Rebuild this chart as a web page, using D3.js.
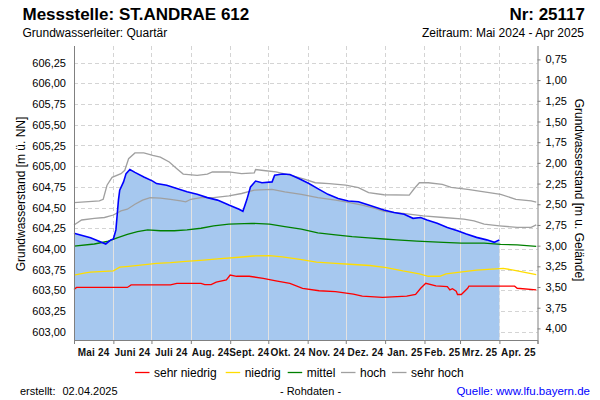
<!DOCTYPE html>
<html><head><meta charset="utf-8">
<script src="https://cdn.jsdelivr.net/npm/d3@7"></script>
<style>
body{margin:0;background:#fff}
svg{display:block;font-family:"Liberation Sans",Arial,sans-serif}
</style>
</head><body><svg id="c" width="600" height="400"></svg>
<script>
// ---------- data ----------
const monthLabels = ["Mai 24","Juni 24","Juli 24","Aug. 24","Sept. 24","Okt. 24","Nov. 24","Dez. 24","Jan. 25","Feb. 25","Mrz. 25","Apr. 25"];
const monthStarts = ["2024-05-01","2024-06-01","2024-07-01","2024-08-01","2024-09-01","2024-10-01","2024-11-01","2024-12-01","2025-01-01","2025-02-01","2025-03-01","2025-04-01","2025-05-01"];
const leftTicks = [603.00,603.25,603.50,603.75,604.00,604.25,604.50,604.75,605.00,605.25,605.50,605.75,606.00,606.25];
const rightTicks = [0.75,1.00,1.25,1.50,1.75,2.00,2.25,2.50,2.75,3.00,3.25,3.50,3.75,4.00];
const groundLevel = 607.04;

const measured = [["2024-05-01",604.19],["2024-05-14",604.135],["2024-05-26",604.06],["2024-05-30",604.11],["2024-06-01",604.12],["2024-06-03",604.23],["2024-06-04",604.41],["2024-06-05",604.59],["2024-06-06",604.71],["2024-06-09",604.81],["2024-06-11",604.91],["2024-06-14",604.96],["2024-06-18",604.925],["2024-06-25",604.87],["2024-07-02",604.82],["2024-07-05",604.79],["2024-07-13",604.77],["2024-07-21",604.73],["2024-07-29",604.69],["2024-08-06",604.66],["2024-08-14",604.62],["2024-08-22",604.59],["2024-08-31",604.53],["2024-09-08",604.48],["2024-09-11",604.455],["2024-09-14",604.59],["2024-09-17",604.75],["2024-09-21",604.82],["2024-09-26",604.80],["2024-10-04",604.81],["2024-10-06",604.89],["2024-10-12",604.905],["2024-10-18",604.90],["2024-10-25",604.85],["2024-11-02",604.79],["2024-11-10",604.72],["2024-11-17",604.66],["2024-11-25",604.61],["2024-12-03",604.58],["2024-12-11",604.57],["2024-12-19",604.53],["2024-12-31",604.47],["2025-01-08",604.44],["2025-01-16",604.42],["2025-01-23",604.37],["2025-01-29",604.38],["2025-02-03",604.35],["2025-02-11",604.31],["2025-02-19",604.26],["2025-02-27",604.22],["2025-03-06",604.18],["2025-03-14",604.14],["2025-03-22",604.11],["2025-03-28",604.08],["2025-04-01",604.11]];

const sehrHoch = [["2024-05-01",604.56],["2024-05-21",604.58],["2024-05-24",604.60],["2024-05-27",604.77],["2024-05-31",604.865],["2024-06-07",604.91],["2024-06-10",604.95],["2024-06-13",605.09],["2024-06-18",605.16],["2024-06-25",605.16],["2024-07-02",605.13],["2024-07-08",605.11],["2024-07-15",605.05],["2024-07-21",604.97],["2024-07-26",604.905],["2024-08-06",604.89],["2024-08-14",604.905],["2024-08-18",604.93],["2024-08-31",604.93],["2024-09-10",604.91],["2024-09-20",604.92],["2024-09-21",604.96],["2024-09-29",604.945],["2024-10-07",604.93],["2024-10-19",604.89],["2024-10-30",604.84],["2024-11-07",604.80],["2024-11-18",604.79],["2024-12-01",604.77],["2024-12-11",604.74],["2024-12-19",604.68],["2024-12-31",604.655],["2025-01-20",604.65],["2025-01-24",604.73],["2025-01-28",604.80],["2025-02-04",604.80],["2025-02-15",604.78],["2025-02-22",604.745],["2025-03-07",604.72],["2025-03-20",604.69],["2025-04-02",604.66],["2025-04-14",604.60],["2025-04-26",604.58],["2025-04-30",604.565]];

const hoch = [["2024-05-01",604.29],["2024-05-07",604.35],["2024-05-17",604.37],["2024-05-25",604.38],["2024-06-01",604.41],["2024-06-07",604.46],["2024-06-12",604.48],["2024-06-18",604.54],["2024-06-24",604.59],["2024-06-30",604.62],["2024-07-08",604.615],["2024-07-16",604.60],["2024-07-24",604.58],["2024-07-28",604.57],["2024-08-01",604.60],["2024-08-09",604.62],["2024-08-19",604.62],["2024-08-31",604.64],["2024-09-10",604.67],["2024-09-20",604.71],["2024-10-04",604.72],["2024-10-14",604.69],["2024-10-27",604.66],["2024-11-09",604.62],["2024-11-23",604.59],["2024-12-01",604.57],["2024-12-14",604.53],["2024-12-24",604.49],["2024-12-31",604.455],["2025-01-15",604.43],["2025-01-31",604.40],["2025-02-16",604.38],["2025-03-04",604.36],["2025-03-12",604.34],["2025-03-20",604.30],["2025-04-01",604.28],["2025-04-15",604.26],["2025-04-26",604.26],["2025-04-30",604.29]];

const mittel = [["2024-05-01",604.035],["2024-05-17",604.06],["2024-05-27",604.09],["2024-06-04",604.135],["2024-06-12",604.175],["2024-06-20",604.21],["2024-06-28",604.23],["2024-07-08",604.22],["2024-07-19",604.22],["2024-07-29",604.23],["2024-08-09",604.25],["2024-08-19",604.28],["2024-08-31",604.30],["2024-09-18",604.31],["2024-10-02",604.30],["2024-10-14",604.27],["2024-10-27",604.24],["2024-11-09",604.195],["2024-11-23",604.17],["2024-12-06",604.15],["2024-12-19",604.135],["2024-12-31",604.12],["2025-01-10",604.11],["2025-01-26",604.095],["2025-02-16",604.08],["2025-03-02",604.07],["2025-03-20",604.07],["2025-04-02",604.055],["2025-04-15",604.05],["2025-04-30",604.03]];

const niedrig = [["2024-05-01",603.685],["2024-05-10",603.71],["2024-05-14",603.72],["2024-06-01",603.735],["2024-06-06",603.78],["2024-06-13",603.79],["2024-06-26",603.81],["2024-07-05",603.825],["2024-07-16",603.835],["2024-07-28",603.85],["2024-08-11",603.865],["2024-08-22",603.88],["2024-09-08",603.90],["2024-09-19",603.915],["2024-10-02",603.92],["2024-10-12",603.905],["2024-10-26",603.875],["2024-11-08",603.84],["2024-11-23",603.825],["2024-12-04",603.815],["2024-12-20",603.80],["2025-01-02",603.775],["2025-01-15",603.735],["2025-01-28",603.70],["2025-02-04",603.67],["2025-02-13",603.67],["2025-02-18",603.70],["2025-03-01",603.72],["2025-03-14",603.745],["2025-04-04",603.765],["2025-04-12",603.745],["2025-04-30",603.69]];

const sehrNiedrig = [["2024-05-01",603.51],["2024-05-03",603.535],["2024-06-12",603.535],["2024-06-15",603.565],["2024-07-16",603.565],["2024-07-21",603.585],["2024-08-09",603.585],["2024-08-12",603.57],["2024-08-17",603.57],["2024-08-21",603.60],["2024-08-29",603.625],["2024-09-01",603.685],["2024-09-06",603.67],["2024-09-16",603.67],["2024-09-27",603.645],["2024-10-07",603.615],["2024-10-18",603.585],["2024-10-28",603.525],["2024-11-10",603.495],["2024-11-23",603.485],["2024-12-07",603.455],["2024-12-14",603.43],["2024-12-30",603.415],["2025-01-18",603.43],["2025-01-25",603.45],["2025-01-29",603.525],["2025-02-02",603.585],["2025-02-10",603.555],["2025-02-19",603.545],["2025-02-21",603.505],["2025-02-23",603.52],["2025-02-26",603.49],["2025-02-27",603.45],["2025-03-02",603.45],["2025-03-07",603.525],["2025-03-08",603.55],["2025-04-13",603.55],["2025-04-15",603.525],["2025-04-30",603.505]];

const legendItems = [["sehr niedrig","#ff0000"],["niedrig","#ffdd00"],["mittel","#008000"],["hoch","#a0a0a0"],["sehr hoch","#a0a0a0"]];

// ---------- layout ----------
const L = 74, R = 537.5, T = 46, B = 340;
const parse = d3.utcParse("%Y-%m-%d");
const svg = d3.select("#c");
const x = d3.scaleUtc().domain([parse("2024-05-01"), parse("2025-05-01")]).range([L, R]);
const y = d3.scaleLinear().domain([602.9, 606.452]).range([B, T]);
const yR = d3.scaleLinear().domain([groundLevel - 602.9, groundLevel - 606.452]).range([B, T]);
const fmt = d => d3.format(".2f")(d).replace(".", ",");
const pts = arr => arr.map(([d, v]) => [parse(d), v]);

// gridlines (dashed)
const grid = svg.append("g").attr("stroke", "#d4d4d4").attr("stroke-dasharray", "4,3").attr("stroke-width", 1);
grid.selectAll("line.h").data(leftTicks).join("line")
  .attr("x1", L).attr("x2", R).attr("y1", d => Math.round(y(d)) + 0.5).attr("y2", d => Math.round(y(d)) + 0.5);
grid.selectAll("line.v").data(monthStarts.slice(1, -1)).join("line")
  .attr("y1", T).attr("y2", B).attr("x1", d => Math.round(x(parse(d))) + 0.5).attr("x2", d => Math.round(x(parse(d))) + 0.5);

// filled area under measured
const mData = pts(measured);
const area = d3.area().x(d => x(d[0])).y0(B).y1(d => y(d[1]));
svg.append("path").attr("d", area(mData)).attr("fill", "#a6c8ef");
svg.append("clipPath").attr("id", "fillclip").append("path").attr("d", area(mData));
svg.append("g").attr("clip-path", "url(#fillclip)").attr("stroke", "#e2e2e2").attr("stroke-width", 1)
  .selectAll("line").data(monthStarts.slice(1, -1)).join("line")
  .attr("y1", T).attr("y2", B).attr("x1", d => Math.round(x(parse(d))) + 0.5).attr("x2", d => Math.round(x(parse(d))) + 0.5);

// statistic lines
const line = d3.line().x(d => x(d[0])).y(d => y(d[1]));
const series = [[sehrHoch, "#a0a0a0"], [hoch, "#a0a0a0"], [mittel, "#008000"], [niedrig, "#ffdd00"], [sehrNiedrig, "#ff0000"]];
series.forEach(([s, c]) => {
  svg.append("path").attr("d", line(pts(s))).attr("fill", "none").attr("stroke", c).attr("stroke-width", 1.3);
});
svg.append("path").attr("d", line(mData)).attr("fill", "none").attr("stroke", "#0000ff").attr("stroke-width", 1.6);

// axes
const axisColor = "#808080";
const gl = svg.append("g").attr("transform", `translate(${L},0)`)
  .call(d3.axisLeft(y).tickValues(leftTicks).tickFormat(fmt).tickSize(0).tickPadding(8));
const gr = svg.append("g").attr("transform", `translate(${R},0)`)
  .call(d3.axisRight(yR).tickValues(rightTicks).tickFormat(fmt).tickSize(3).tickPadding(5));
const gb = svg.append("g").attr("transform", `translate(0,${B})`)
  .call(d3.axisBottom(x).tickValues(monthStarts.map(parse)).tickFormat("").tickSize(4));
[gl, gr, gb].forEach(g => {
  g.select(".domain").attr("stroke", axisColor);
  g.selectAll(".tick line").attr("stroke", axisColor);
  g.selectAll("text").attr("font-size", 11).attr("fill", "#000").attr("font-family", '"Liberation Sans",Arial,sans-serif');
});
gl.select(".domain").attr("d", `M0.5,${T}V${B}`);
gr.select(".domain").attr("d", `M0.5,${T}V${B}`);

// month labels centred in each month
svg.append("g").selectAll("text").data(monthLabels).join("text")
  .attr("x", (d, i) => (x(parse(monthStarts[i])) + x(parse(monthStarts[i + 1]))) / 2)
  .attr("y", 356).attr("text-anchor", "middle").attr("font-size", 10).attr("font-weight", "bold")
  .attr("letter-spacing", 0.2).attr("fill", "#111")
  .text(d => d);

// axis titles
svg.append("text").attr("transform", "translate(25,194) rotate(-90)").attr("text-anchor", "middle")
  .attr("font-size", 12).text("Grundwasserstand [m ü. NN]");
svg.append("text").attr("transform", "translate(575,190) rotate(90)").attr("text-anchor", "middle")
  .attr("font-size", 12).text("Grundwasserstand [m u. Gelände]");

// titles
svg.append("text").attr("x", 22.5).attr("y", 20).attr("font-size", 17).attr("font-weight", "bold").text("Messstelle: ST.ANDRAE 612");
svg.append("text").attr("x", 22.5).attr("y", 36.5).attr("font-size", 12).text("Grundwasserleiter: Quartär");
svg.append("text").attr("x", 585).attr("y", 20).attr("text-anchor", "end").attr("font-size", 17).attr("font-weight", "bold").text("Nr: 25117");
svg.append("text").attr("x", 584).attr("y", 36.5).attr("text-anchor", "end").attr("font-size", 12).text("Zeitraum: Mai 2024 - Apr 2025");

// legend
const legendX = [135, 225.7, 287.7, 341, 392];
const lg = svg.append("g").selectAll("g").data(legendItems).join("g")
  .attr("transform", (d, i) => `translate(${legendX[i]},372.5)`);
lg.append("line").attr("x1", 0).attr("x2", 14.5).attr("stroke", d => d[1]).attr("stroke-width", 1.3);
lg.append("text").attr("x", 19).attr("y", 4.3).attr("font-size", 12).text(d => d[0]);

// footer
svg.append("text").attr("x", 20).attr("y", 395).attr("font-size", 11).text("erstellt:");
svg.append("text").attr("x", 62.5).attr("y", 395).attr("font-size", 11).text("02.04.2025");
svg.append("text").attr("x", 310.5).attr("y", 395).attr("text-anchor", "middle").attr("font-size", 11).text("- Rohdaten -");
svg.append("text").attr("x", 590).attr("y", 395).attr("text-anchor", "end").attr("font-size", 11.5).attr("fill", "#0000ff").text("Quelle: www.lfu.bayern.de");
</script>
</body></html>
